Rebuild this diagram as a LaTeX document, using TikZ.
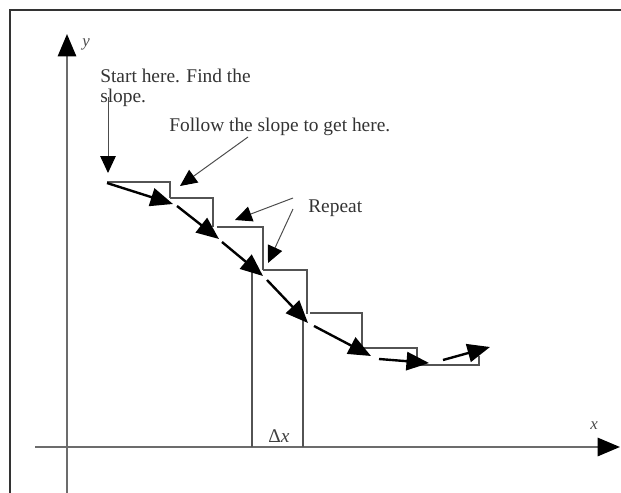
\documentclass[tikz,border=0pt]{standalone}
\usepackage{fontspec}
\setmainfont{Liberation Serif}
\usetikzlibrary{arrows.meta}

\tikzset{
  bigtip/.style={-{Triangle[length=16pt,width=13pt,color=black]}},
  axisline/.style={line width=1.8pt,draw=gray!85!black,bigtip},
  stepline/.style={line width=0.8pt,draw=gray!65!black},
  slopearrow/.style={line width=1.7pt,bigtip},
  callout/.style={line width=0.7pt,draw=gray!60!black,-{Triangle[length=12pt,width=11pt,color=black]}},
  txt/.style={font=\fontsize{13.8}{16}\selectfont,text=black!80,inner sep=0pt,anchor=base west}
}

\begin{document}
\begin{tikzpicture}[x=0.025cm,y=-0.025cm]
\useasboundingbox (0,0) rectangle (621,493);
\clip (0,0) rectangle (621,493);

% frame
\draw[line width=1.2pt,draw=black!80] (10,520) -- (10,10) -- (650,10);

% axes
\coordinate (yfoot) at (67,500);
\coordinate (ytip) at (67,34);
\coordinate (xfoot) at (35,447);
\coordinate (xtip) at (620,447);
\draw[axisline] (yfoot) -- (ytip);
\draw[axisline] (xfoot) -- (xtip);
\node[font=\fontsize{12}{13}\selectfont\itshape,text=black!70] (ylab) at (86,44) {y};
\node[font=\fontsize{12}{13}\selectfont\itshape,text=black!70] (xlab) at (594,426) {x};

% step boxes
\draw[stepline] (107,182) -- (170,182) -- (170,198);
\draw[stepline] (170,198) -- (213,198) -- (213,227);
\draw[stepline] (217,227) -- (263,227) -- (263,270);
\draw[stepline] (263,270) -- (307,270) -- (307,314);
\draw[stepline] (310,313) -- (362,313) -- (362,348);
\draw[stepline] (362,348) -- (417,348) -- (417,360);
\draw[stepline] (420,365) -- (479,365) -- (479,356);

% delta x strip
\draw[stepline] (252,272) -- (252,447);
\draw[stepline] (303,318) -- (303,447);
\node[font=\fontsize{13.8}{15}\selectfont,text=black!75,inner sep=0pt,anchor=base] (dx) at (279,442) {Δ\textit{x}};

% slope arrows
\coordinate (a0) at (107,183);
\coordinate (a1) at (173,204);
\coordinate (b1) at (177,206);
\coordinate (a2) at (219,239);
\coordinate (b2) at (222,242);
\coordinate (a3) at (263,276);
\coordinate (b3) at (267,280);
\coordinate (a4) at (308,323);
\coordinate (b4) at (314,326);
\coordinate (a5) at (371,356);
\coordinate (b5) at (379,359);
\coordinate (a6) at (429,363);
\coordinate (b6) at (443,360);
\coordinate (a7) at (490,347);
\draw[slopearrow] (a0) -- (a1);
\draw[slopearrow] (b1) -- (a2);
\draw[slopearrow] (b2) -- (a3);
\draw[slopearrow] (b3) -- (a4);
\draw[slopearrow] (b4) -- (a5);
\draw[slopearrow] (b5) -- (a6);
\draw[slopearrow] (b6) -- (a7);

% labels
\node[txt] (start) at (100,82) {Start here. Find the};
\node[txt] (slope) at (100,103) {slope.};
\node[txt] (follow) at (169,132) {Follow the slope to get here.};
\node[txt] (repeat) at (308,212) {Repeat};

% callouts
\coordinate (c0) at (108,97);
\coordinate (c1) at (108,173);
\coordinate (f0) at (248,137);
\coordinate (f1) at (180,186);
\coordinate (r0) at (293,198);
\coordinate (r1) at (235,220);
\coordinate (r2) at (293,209);
\coordinate (r3) at (268,263);
\draw[callout] (c0) -- (c1);
\draw[callout] (f0) -- (f1);
\draw[callout] (r0) -- (r1);
\draw[callout] (r2) -- (r3);
\end{tikzpicture}
\end{document}
